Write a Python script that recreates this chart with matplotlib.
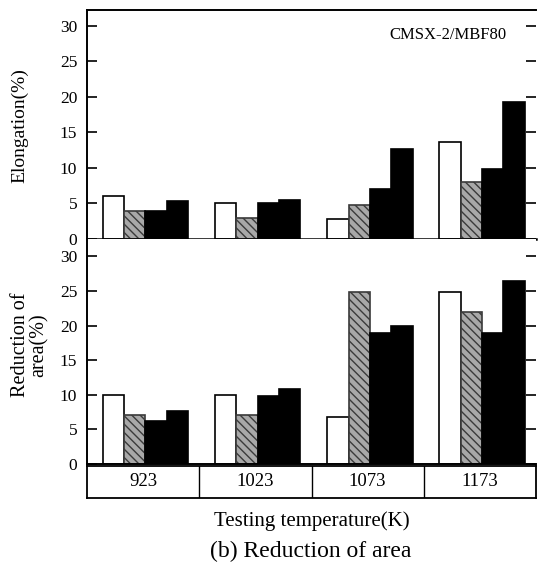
import matplotlib.pyplot as plt
import numpy as np

plt.rcParams['font.family'] = ['Liberation Serif', 'DejaVu Serif']

temps = ['923', '1023', '1073', '1173']

# bar order in each group: white, hatched grey, black, black
elong = [
    [6.0, 3.9, 3.9, 5.4],
    [5.0, 3.0, 5.0, 5.5],
    [2.8, 4.8, 7.1, 12.6],
    [13.6, 8.0, 9.8, 19.2],
]
red_area = [
    [9.9, 7.1, 6.2, 7.7],
    [10.0, 7.1, 9.8, 10.9],
    [6.8, 24.9, 18.9, 19.9],
    [24.8, 21.9, 18.9, 26.4],
]

styles = [
    dict(facecolor='white', edgecolor='black', hatch=None),
    dict(facecolor='#a8a8a8', edgecolor='#3a3a3a', hatch='\\\\\\\\'),
    dict(facecolor='black', edgecolor='black', hatch=None),
    dict(facecolor='black', edgecolor='black', hatch=None),
]

W, H = 539, 570
fig = plt.figure(figsize=(W / 100, H / 100), dpi=100)

left, right = 87, 536


def box(x0, y0, x1, y1):
    return [x0 / W, 1 - y1 / H, (x1 - x0) / W, (y1 - y0) / H]


ax1 = fig.add_axes(box(left, 10, right, 239))
ax2 = fig.add_axes(box(left, 239, right, 464))
axt = fig.add_axes(box(left, 466, right, 498))

bw = 0.19
x = np.arange(len(temps)) + 0.02


def draw(ax, data, ymax):
    data = np.array(data)
    for k in range(4):
        st = styles[k]
        ax.bar(x + (k - 1.5) * bw, data[:, k], width=bw, facecolor=st['facecolor'],
               edgecolor=st['edgecolor'], hatch=st['hatch'], linewidth=1.2)
    ax.set_xlim(-0.5, 3.5)
    ax.set_ylim(0, ymax)
    ax.set_yticks(range(0, 31, 5))
    ax.set_xticks([])
    ax.tick_params(axis='y', direction='in', length=7, width=1.2, right=True,
                   labelsize=12.5, pad=7)
    ax.spines['right'].set_visible(False)
    for s in ['left', 'top', 'bottom']:
        ax.spines[s].set_linewidth(1.4)


draw(ax1, elong, 32.2)
draw(ax2, red_area, 32.5)
ax2.spines['top'].set_visible(False)
ax1.spines['bottom'].set_linewidth(1.8)

ax1.text(0.935, 0.89, 'CMSX-2/MBF80', transform=ax1.transAxes, ha='right', va='center',
         fontsize=12)

# temperature table under the bars
axt.set_xlim(-0.5, 3.5)
axt.set_ylim(0, 1)
axt.set_xticks([])
axt.set_yticks([])
for s in axt.spines.values():
    s.set_linewidth(1.3)
for b in [0.5, 1.5, 2.5]:
    axt.axvline(b, color='black', linewidth=1.0)
for i, t in enumerate(temps):
    axt.text(i, 0.5, t, ha='center', va='center', fontsize=13.5)

fig.text(20 / W, 1 - 126 / H, 'Elongation(%)', rotation=90, ha='center', va='center',
         fontsize=14)
# two-line label, each line centred on the same height
fig.text(21 / W, 1 - 345 / H, 'Reduction of', rotation=90, ha='center', va='center',
         fontsize=14.5)
fig.text(39 / W, 1 - 345 / H, 'area(%)', rotation=90, ha='center', va='center',
         fontsize=14.5)
fig.text(312 / W, 1 - 521 / H, 'Testing temperature(K)', ha='center', va='center',
         fontsize=15)
fig.text(311 / W, 1 - 551 / H, '(b) Reduction of area', ha='center', va='center',
         fontsize=17)

fig.savefig('out.png', dpi=100)
